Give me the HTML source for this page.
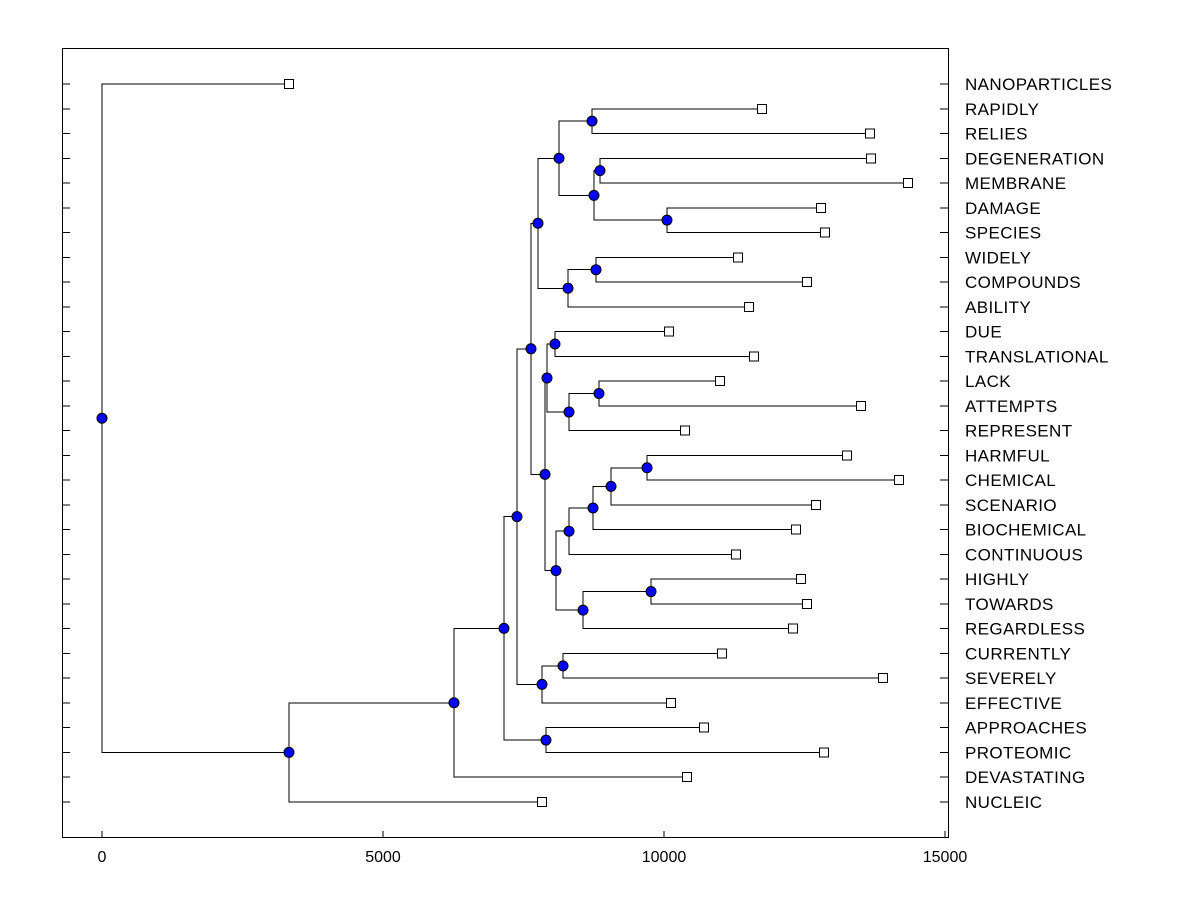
<!DOCTYPE html>
<html><head><meta charset="utf-8"><style>
body{margin:0;background:#fff;}
svg text{font-family:"Liberation Sans",Arial,sans-serif;}
</style></head><body>
<svg id="c" width="1200" height="900" shape-rendering="crispEdges"></svg>
<script>
const leafNames=["NANOPARTICLES","RAPIDLY","RELIES","DEGENERATION","MEMBRANE","DAMAGE","SPECIES","WIDELY","COMPOUNDS","ABILITY","DUE","TRANSLATIONAL","LACK","ATTEMPTS","REPRESENT","HARMFUL","CHEMICAL","SCENARIO","BIOCHEMICAL","CONTINUOUS","HIGHLY","TOWARDS","REGARDLESS","CURRENTLY","SEVERELY","EFFECTIVE","APPROACHES","PROTEOMIC","DEVASTATING","NUCLEIC"];
const leafValues=[3327,11744,13665,13683,14342,12794,12865,11317,12544,11512,10089,11601,10996,13505,10374,13256,14181,12705,12349,11281,12438,12544,12295,11032,13897,10125,10712,12847,10409,7829];
const mergeLeft=[1,3,5,31,30,7,35,34,10,12,39,38,15,42,43,44,20,46,45,41,37,23,51,50,26,53,55,56,0];
const mergeRight=[2,4,6,32,33,8,9,36,11,13,14,40,16,17,18,19,21,22,47,48,49,24,25,52,27,54,28,29,57];
const mergeValues=[8719,8861,10053,8754,8132,8790,8292,7758,8060,8843,8310,7918,9698,9057,8737,8310,9769,8559,8078,7883,7633,8203,7829,7384,7900,7153,6263,3327,0];
const xTicks=[0,5000,10000,15000];

const NS="http://www.w3.org/2000/svg";
const svg=document.getElementById('c');
const X0=62,X1=948,Y0=48,Y1=837;
const xs=v=>102+v*(945-102)/15000;
const ys=i=>84+i*(802-84)/(leafNames.length-1);
function mk(t,a,p){const e=document.createElementNS(NS,t);for(const k in a)e.setAttribute(k,a[k]);(p||svg).appendChild(e);return e;}
const frame=mk('rect',{x:X0+0.5,y:Y0+0.5,width:X1-X0,height:Y1-Y0,fill:'none',stroke:'#000','stroke-width':1});


xTicks.forEach(t=>{
  const l=mk('line',{x1:xs(t),x2:xs(t),y1:Y1,y2:Y1-6,stroke:'#000'});
  
  
  const tx=mk('text',{x:xs(t),y:862,'text-anchor':'middle','font-size':16});
  tx.textContent=t;
  
  
});
leafNames.forEach((n,i)=>{
  const y=ys(i);
  const a=mk('line',{x1:X0,x2:X0+8,y1:y,y2:y,stroke:'#000'});
  
  
  const b=mk('line',{x1:X1-8,x2:X1,y1:y,y2:y,stroke:'#000'});
  
  
  const t=mk('text',{x:965,y:y+6,'font-size':17,'letter-spacing':0.4});
  t.textContent=n;
  
  
});
const nodeX=[],nodeY=[];
leafNames.forEach((n,i)=>{nodeX.push(xs(leafValues[i]));nodeY.push(ys(i));});
const gL=mk('g',{}),gM=mk('g',{});




mergeValues.forEach((v,k)=>{
  const a=mergeLeft[k],b=mergeRight[k],x=xs(v);
  const y=(nodeY[a]+nodeY[b])/2;
  nodeX.push(x);nodeY.push(y);
  const p=mk('path',{d:`M${nodeX[a]},${nodeY[a]}H${x}V${nodeY[b]}H${nodeX[b]}`,fill:'none',stroke:'#000','stroke-width':1},gL);
  
  
});
leafNames.forEach((n,i)=>{
  const r=mk('rect',{x:nodeX[i]-4.5,y:nodeY[i]-4.5,width:9,height:9,fill:'#fff',stroke:'#000'},gM);
  
  
});
mergeValues.forEach((v,k)=>{
  const i=leafNames.length+k;
  const c=mk('circle',{cx:nodeX[i],cy:nodeY[i],r:5,fill:'#0000ff',stroke:'#000','shape-rendering':'auto'},gM);
  
  
});
</script>
</body></html>
